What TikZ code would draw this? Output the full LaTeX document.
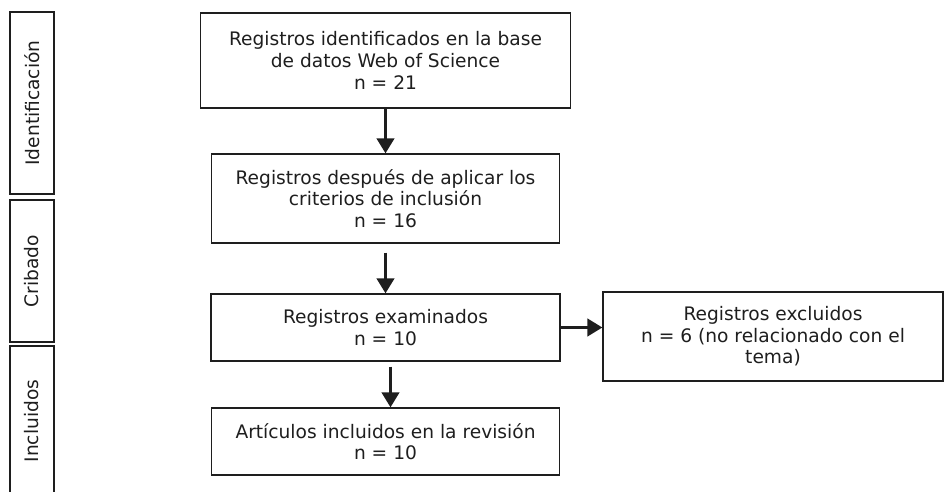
\documentclass[tikz,border=0pt]{standalone}
\usepackage{fontspec}
\setmainfont{DejaVu Sans}
\usetikzlibrary{arrows.meta,calc}

\definecolor{ink}{HTML}{1E1E1E}

\begin{document}
\begin{tikzpicture}[x=0.02cm, y=-0.02cm, color=ink,
		box/.style={draw, line width=0.8pt, align=center, inner sep=0pt,
			font=\fontsize{10.6}{12.3}\selectfont},
		side/.style={draw, line width=0.8pt, rotate=90, inner sep=0pt, minimum height=0.88cm,
			font=\fontsize{10.6}{12.3}\selectfont},
		arr/.style={line width=1.4pt, -{Triangle[width=10pt,length=8.5pt]}}]
		\useasboundingbox (0,0) rectangle (945,492);
		\node[side, minimum width=3.64cm] (Iden) at (32,103) {Identificación};
		\node[side, minimum width=2.84cm] (Crib) at (32,271) {Cribado};
		\node[side, minimum width=3.0cm] (Incl) at (32,421) {Incluidos};
		\node[box, minimum width=7.4cm, minimum height=1.9cm] (B1) at (385.5,60.5)
			{Registros identificados en la base\\ de datos Web of Science\\ n = 21};
		\node[box, minimum width=6.96cm, minimum height=1.78cm] (B2) at (385.5,198.5)
			{Registros después de aplicar los\\ criterios de inclusión\\ n = 16};
		\node[box, minimum width=6.98cm, minimum height=1.34cm] (B3) at (385.5,327.5)
			{Registros examinados\\ n = 10};
		\node[box, minimum width=6.96cm, minimum height=1.34cm] (B4) at (385.5,441.5)
			{Artículos incluidos en la revisión\\ n = 10};
		\node[box, minimum width=6.8cm, minimum height=1.78cm] (Excl) at (773,336.5)
			{Registros excluidos\\ n = 6 (no relacionado con el\\ tema)};
		\draw[arr] (B1.south) -- (B2.north);
		\draw[arr, shorten <=9*0.02cm] (B2.south) -- (B3.north);
		\draw[arr, shorten <=5*0.02cm] ([xshift=5*0.02cm]B3.south) -- ([xshift=5*0.02cm]B4.north);
		\draw[arr] (B3.east) -- (B3.east -| Excl.west);
	\end{tikzpicture}
\end{document}
